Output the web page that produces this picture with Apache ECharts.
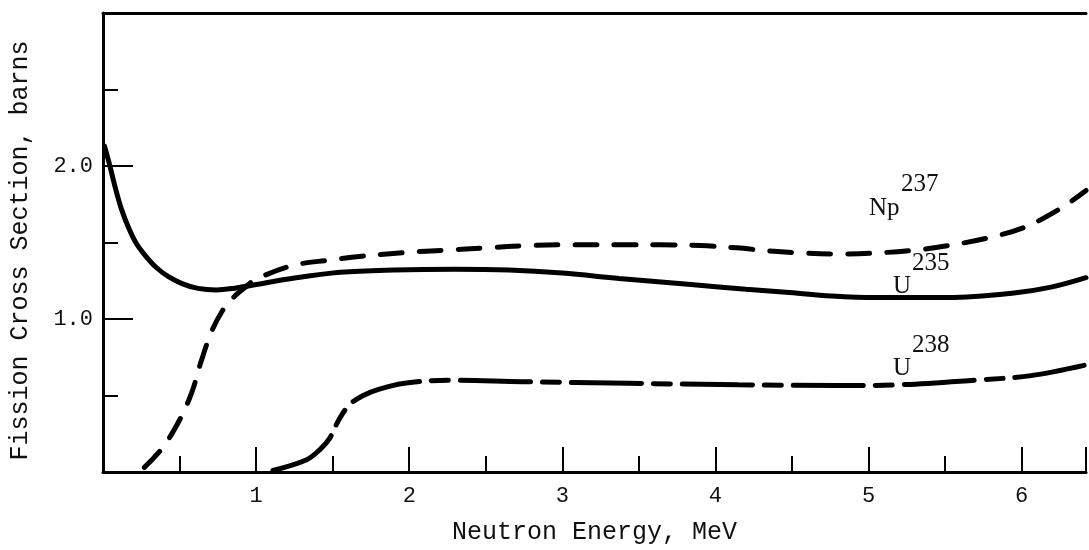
<!DOCTYPE html>
<html>
<head>
<meta charset="utf-8">
<script src="https://cdn.jsdelivr.net/npm/echarts@6/dist/echarts.min.js"></script>
<style>
html,body{margin:0;padding:0;background:#fff;}
#chart{width:1089px;height:550px;}
</style>
</head>
<body>
<div id="chart"></div>
<script>
// Neutron energy (MeV) and fission cross section (barns)
var u235Energy = [0.01, 0.04, 0.08, 0.12, 0.17, 0.22, 0.28, 0.35, 0.43, 0.52, 0.62, 0.74, 0.85, 1.0, 1.2, 1.55, 1.9, 2.3, 2.65, 3.0, 3.37, 3.84, 4.2, 4.46, 4.76, 5.06, 5.52, 5.95, 6.2, 6.42];
var u235Sigma  = [2.13, 2.02, 1.86, 1.72, 1.59, 1.49, 1.41, 1.335, 1.275, 1.23, 1.2, 1.19, 1.2, 1.225, 1.26, 1.305, 1.32, 1.325, 1.32, 1.3, 1.265, 1.225, 1.195, 1.175, 1.15, 1.14, 1.14, 1.17, 1.21, 1.27];

var np237Energy = [0.27, 0.39, 0.5, 0.58, 0.64, 0.71, 0.79, 0.85, 0.92, 1.0, 1.24, 1.48, 1.69, 1.98, 2.24, 2.5, 2.78, 3.06, 3.35, 3.64, 3.9, 4.14, 4.35, 4.59, 4.79, 5.02, 5.3, 5.52, 5.78, 6.02, 6.25, 6.42];
var np237Sigma  = [0.03, 0.16, 0.34, 0.52, 0.72, 0.92, 1.07, 1.14, 1.2, 1.26, 1.35, 1.385, 1.41, 1.435, 1.45, 1.465, 1.48, 1.485, 1.485, 1.485, 1.48, 1.465, 1.445, 1.43, 1.425, 1.43, 1.45, 1.48, 1.53, 1.6, 1.72, 1.84];

var u238Energy = [1.11, 1.33, 1.42, 1.48, 1.54, 1.61, 1.7, 1.8, 1.97, 2.26, 2.74, 3.43, 4.15, 4.8, 5.2, 5.69, 6.06, 6.42];
var u238Sigma  = [0.01, 0.08, 0.15, 0.22, 0.34, 0.44, 0.5, 0.54, 0.58, 0.6, 0.59, 0.58, 0.57, 0.565, 0.57, 0.6, 0.63, 0.7];

var xTickLabels = ['1', '2', '3', '4', '5', '6'];
var yTickLabels = ['1.0', '2.0'];

function zip(a, b) { return a.map(function (v, i) { return [v, b[i]]; }); }

var chart = echarts.init(document.getElementById('chart'), null, {renderer: 'canvas'});
var mono = 'Liberation Mono';
var serif = 'Liberation Serif';

var option = {
  animation: false,
  backgroundColor: '#fff',
  grid: {left: 103, right: 0, top: 13, bottom: 75, containLabel: false},
  xAxis: [{
    type: 'value', min: 0, max: 6.42, interval: 1,
    name: 'Neutron Energy, MeV', nameLocation: 'middle', nameGap: 48,
    nameTextStyle: {fontFamily: mono, fontSize: 25, color: '#111'},
    axisLine: {show: true, lineStyle: {color: '#000', width: 3}},
    axisTick: {show: true, inside: true, length: 25, lineStyle: {color: '#000', width: 2}},
    minorTick: {show: true, splitNumber: 2, length: 16, lineStyle: {color: '#000', width: 2}},
    axisLabel: {
      margin: 13, fontFamily: mono, fontSize: 22, color: '#111',
      formatter: function (v) { var s = String(Math.round(v)); return (Math.abs(v - Math.round(v)) < 1e-6 && xTickLabels.indexOf(s) >= 0) ? s : ''; }
    },
    splitLine: {show: false}, minorSplitLine: {show: false}
  }, {
    type: 'value', position: 'top', min: 0, max: 6.42,
    axisLine: {show: true, lineStyle: {color: '#000', width: 3}},
    axisTick: {show: false}, axisLabel: {show: false}, splitLine: {show: false}
  }],
  yAxis: [{
    type: 'value', min: 0, max: 3, interval: 1,
    name: 'Fission Cross Section, barns', nameLocation: 'middle', nameGap: 70, nameRotate: 90,
    nameTextStyle: {fontFamily: mono, fontSize: 25, color: '#111', padding: [0, 16, 0, 0]},
    axisLine: {show: true, lineStyle: {color: '#000', width: 3}},
    axisTick: {show: true, inside: true, length: 30, lineStyle: {color: '#000', width: 2}},
    minorTick: {show: true, splitNumber: 2, length: 15, lineStyle: {color: '#000', width: 2}},
    axisLabel: {
      margin: 10, fontFamily: mono, fontSize: 22, color: '#111',
      formatter: function (v) { var s = v.toFixed(1); return yTickLabels.indexOf(s) >= 0 ? s : ''; }
    },
    splitLine: {show: false}, minorSplitLine: {show: false}
  }],
  series: [{
    name: 'U235', type: 'line', smooth: 0.35, showSymbol: false,
    data: zip(u235Energy, u235Sigma),
    lineStyle: {color: '#000', width: 5, cap: 'round'}
  }, {
    name: 'Np237', type: 'line', smooth: 0.35, showSymbol: false,
    data: zip(np237Energy, np237Sigma),
    lineStyle: {color: '#000', width: 5, type: [22, 17], cap: 'round'}
  }, {
    name: 'U238', type: 'line', smooth: 0.35, showSymbol: false,
    data: zip(u238Energy, u238Sigma),
    lineStyle: {color: '#000', width: 5, type: [70, 12, 17, 12], cap: 'round'}
  }],
  graphic: [
    {type: 'text', left: 869, top: 196, style: {text: 'Np', font: '25px ' + serif, fill: '#111'}},
    {type: 'text', left: 901, top: 172, style: {text: '237', font: '25px ' + serif, fill: '#111'}},
    {type: 'text', left: 893, top: 274, style: {text: 'U', font: '25px ' + serif, fill: '#111'}},
    {type: 'text', left: 912, top: 251, style: {text: '235', font: '25px ' + serif, fill: '#111'}},
    {type: 'text', left: 893, top: 356, style: {text: 'U', font: '25px ' + serif, fill: '#111'}},
    {type: 'text', left: 912, top: 333, style: {text: '238', font: '25px ' + serif, fill: '#111'}}
  ]
};
chart.setOption(option);
</script>
</body>
</html>
